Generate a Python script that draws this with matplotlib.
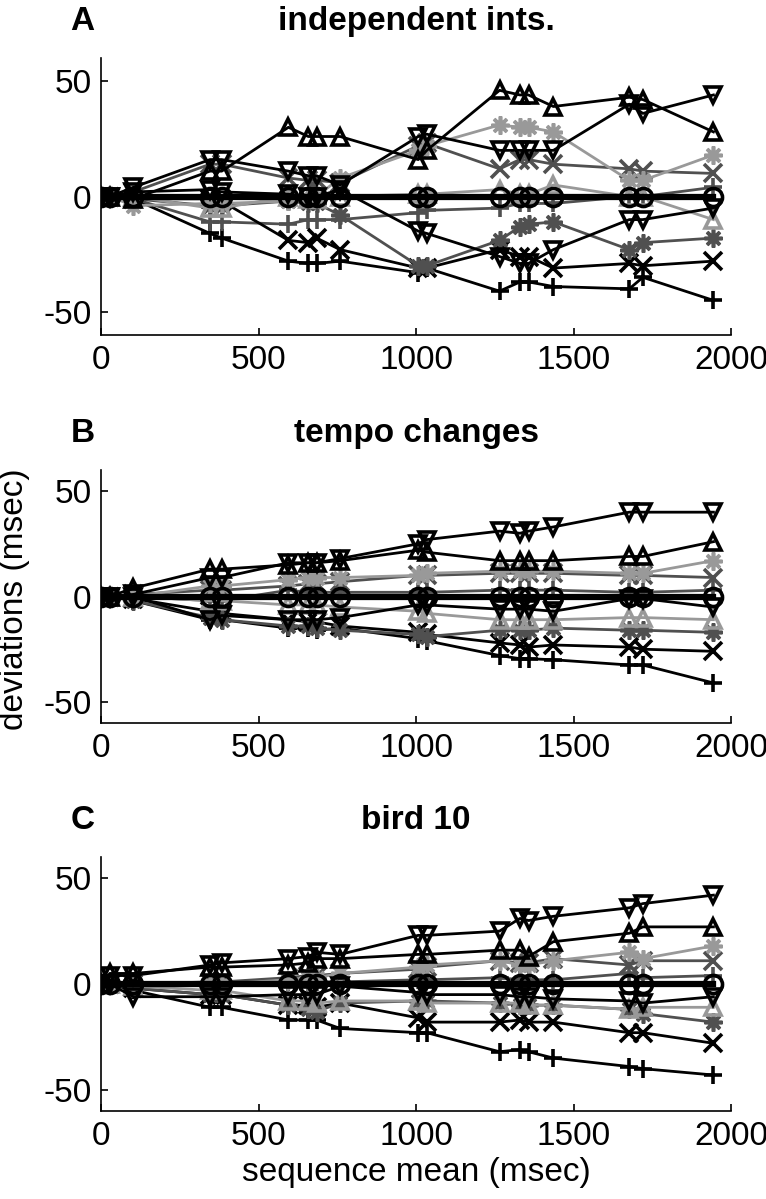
import numpy as np
from matplotlib import pyplot as plt

plt.rcParams['font.family'] = ['Liberation Sans', 'DejaVu Sans']
plt.rcParams['axes.unicode_minus'] = False

seq_mean = [0, 28, 103, 346, 383, 595, 658, 684, 759, 1007, 1034, 1265, 1330, 1357, 1436, 1677, 1720, 1944]
zeros = [0] * 18

# panel A: independent ints.
a_plus_k = [0, 0, -1, -16, -18, -28, -29, -29, -28, -33, -31, -41, -37, -37, -39, -40, -35, -45]
a_plus_d = [0, 0, -1, -11, -11, -12, -10, -10, -10, -7, -6, -5, -3, -3, -3, 0, 0, 4]
a_x_k = [0, 0, -1, -1, -2, -19, -20, -18, -23, -31, -31, -23, -26, -26, -31, -29, -30, -28]
a_x_d = [0, 0, 2, 14, 14, 8, 7, 7, 6, 22, 23, 12, 16, 16, 14, 12, 11, 10]
a_star_l = [0, 0, -4, -3, -3, -2, -1, 0, 8, 20, 22, 31, 30, 30, 28, 7, 7, 18]
a_star_d = [0, 0, -1, -4, -4, -2, -3, -3, -8, -30, -30, -19, -13, -12, -11, -23, -20, -18]
a_up_k = [0, 0, -1, 11, 11, 30, 26, 26, 26, 16, 20, 46, 44, 44, 39, 43, 42, 28]
a_up_l = [0, 0, 0, -5, -5, 0, -1, -1, 0, 1, 1, 3, 1, 1, 5, 0, 0, -10]
a_dn_k1 = [0, 0, 4, 16, 16, 11, 9, 9, 5, 26, 27, 20, 20, 20, 20, 40, 36, 44]
a_dn_k2 = [0, 0, 2, 3, 2, 1, 0, 0, 3, -15, -16, -26, -29, -29, -23, -10, -10, -5]

# panel B: tempo changes
b_plus_k = [0, 0, -2, -11, -11, -15, -15, -16, -15, -20, -21, -28, -29.5, -29.5, -30, -32.5, -32.5, -41]
b_plus_d = [0, 0, 0, -2, -2, 3, 2, 2, 2, 2, 2, 3, 3, 3, 3, 2, 2, 3]
b_x_k = [0, 0, -1, -7, -8, -11, -12, -12, -14, -17, -18, -22, -23, -24, -23, -24, -25, -26]
b_x_d = [0, 0, 1, 3, 3, 5, 6, 6, 7, 10, 10, 11, 11, 11, 11, 10, 10, 9]
b_star_l = [0, 0, 0, 5, 5, 8, 9, 9, 9, 10, 11, 12, 12, 12, 12, 11, 11, 17]
b_star_d = [0, 0, -2, -10, -11, -14, -14, -15, -16, -18, -19, -16, -16, -16, -15, -16, -16, -17]
b_up_k = [0, 0, 4, 13, 13, 15, 16, 16, 17, 22, 21, 17, 17, 17, 17, 19, 19, 26]
b_up_l = [0, 0, 0, -2, -2, -4, -4, -4, -5, -7, -8, -11, -11, -11, -11, -10, -10, -11]
b_dn_k1 = [0, 0, 1, 9, 9, 16, 16, 16, 18, 25, 27, 31, 30, 31, 33, 40, 40, 40]
b_dn_k2 = [0, 0, 0, -11, -9, -11, -11, -11, -10, -4, -4, -6, -6, -6, -7, -1, -1, -5]

# panel C: bird 10
c_plus_k = [0, 0, -3, -11, -11, -17, -17, -17, -21, -23, -23, -32, -31, -32, -35, -39, -40, -43]
c_plus_d = [0, 0, -1, 0, 0, 1, 1, 1, 1, 2, 2, 3, 2, 2, 2, 5, 3, 4]
c_x_k = [0, 0, -2, -5, -5, -10, -10, -11, -9, -16, -18, -18, -17, -18, -18, -23, -23, -28]
c_x_d = [0, 0, 0, 1, 1, 3, 4, 4, 5, 7, 8, 11, 10, 10, 12, 9, 11, 11]
c_star_l = [0, 0, 0, 0, 0, 2, 3, 3, 5, 8, 9, 11, 9, 9, 11, 15, 12, 18]
c_star_d = [0, 0, -2, -5, -5, -10, -12, -13, -9, -8, -8, -9, -10, -10, -10, -12, -14, -18]
c_up_k = [0, 5, 5, 8, 8, 9, 10, 12, 12, 14, 14, 16, 16, 13, 20, 24, 27, 27]
c_up_l = [0, 0, -1, -3, -3, -8, -8, -9, -8, -8, -9, -9, -9, -10, -10, -12, -11, -11]
c_dn_k1 = [0, 4, 4, 9, 10, 12, 13, 15, 14, 23, 23, 25, 31, 30, 32, 36, 38, 42]
c_dn_k2 = [0, 0, -6, -6, -6, -5, -5, -5, -1, -4, -5, -5, -6, -6, -7, -8, -9, -6]

titles = ['independent ints.', 'tempo changes', 'bird 10']
letters = ['A', 'B', 'C']

K = 'black'
D = '#505050'
L = '#999999'
ast = (8, 2, 0)
# marker, colour for each series, in drawing order
styles = [('+', K), ('+', D), ('x', K), ('x', D), (ast, D), (ast, L),
          ('^', L), ('v', K), ('v', K), ('^', K), ('o', K)]

panels = [
    [a_plus_k, a_plus_d, a_x_k, a_x_d, a_star_d, a_star_l, a_up_l, a_dn_k2, a_dn_k1, a_up_k, zeros],
    [b_plus_k, b_plus_d, b_x_k, b_x_d, b_star_d, b_star_l, b_up_l, b_dn_k2, b_dn_k1, b_up_k, zeros],
    [c_plus_k, c_plus_d, c_x_k, c_x_d, c_star_d, c_star_l, c_up_l, c_dn_k2, c_dn_k1, c_up_k, zeros],
]

fig = plt.figure(figsize=(7.66, 11.99), dpi=100)
boxes = [[0.1319, 0.7206, 0.8225, 0.2310],
         [0.1319, 0.3970, 0.8225, 0.2110],
         [0.1319, 0.0734, 0.8225, 0.2118]]

for i in range(3):
    ax = fig.add_axes(boxes[i])
    for (m, c), ys in zip(styles, panels[i]):
        lw = 4.5 if m == 'o' else 2
        ms = 13 if m in ('o', '+', 'x', ast) else 12
        ax.plot(seq_mean, ys, color=c, lw=lw, marker=m, ms=ms, mew=2.6,
                fillstyle='none', mec=c)
    ax.set_xlim(0, 2000)
    ax.set_ylim(-60, 60)
    ax.set_xticks([0, 500, 1000, 1500, 2000])
    ax.set_yticks([-50, 0, 50])
    ax.spines['top'].set_visible(False)
    ax.spines['right'].set_visible(False)
    for s in ['left', 'bottom']:
        ax.spines[s].set_linewidth(1.2)
    ax.tick_params(direction='in', length=5, width=1.2, labelsize=24, pad=7)
    ax.set_title(titles[i], fontsize=24, fontweight='bold', pad=20)
    ax.annotate(letters[i], xy=(0, 1), xycoords='axes fraction',
                xytext=(-22, 20), textcoords='offset points',
                fontsize=24, fontweight='bold', ha='left', va='baseline')
    if i == 1:
        ax.set_ylabel('deviations (msec)', fontsize=24)
        ax.yaxis.set_label_coords(-0.112, 0.49)
    if i == 2:
        ax.set_xlabel('sequence mean (msec)', fontsize=24, labelpad=4)

fig.savefig('out.png', dpi=100)
